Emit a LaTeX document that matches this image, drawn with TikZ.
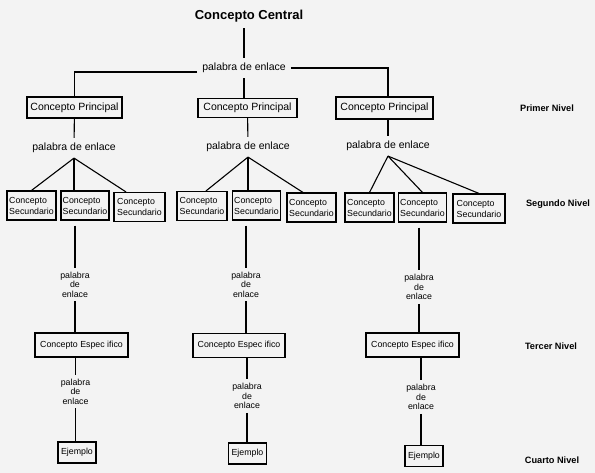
\documentclass[tikz,border=0pt]{standalone}
\usepackage{fontspec}
\setmainfont{Liberation Sans}
\definecolor{fondo}{RGB}{243,243,243}
\tikzset{
    linea/.style={line width=1.1pt},
    concepto/.style={draw, line width=1.1pt, inner sep=2pt, font=\fontsize{10.5}{12}\selectfont},
    secundario/.style={draw, line width=1.1pt, inner sep=1.2pt, align=left, minimum height=29pt, font=\fontsize{8.8}{11}\selectfont},
    especifico/.style={draw, line width=1.1pt, inner sep=2pt, minimum height=24pt, font=\fontsize{8.8}{11}\selectfont},
    ejemplo/.style={draw, line width=1.1pt, inner sep=2pt, minimum width=38pt, minimum height=21pt, font=\fontsize{8.8}{11}\selectfont},
    enlace/.style={inner sep=5pt, font=\fontsize{10.5}{12}\selectfont},
    enlacecorto/.style={inner sep=4pt, align=center, font=\fontsize{8.8}{9.5}\selectfont},
    nivel/.style={font=\bfseries\fontsize{9.2}{11}\selectfont},
}

\begin{document}
\begin{tikzpicture}[x=1pt, y=-1pt]
        %background and size
        \fill[fondo] (0, 0) rectangle (595, 473);
        \useasboundingbox (0, 0) rectangle (595, 473);
        %concepto central
        \node[font=\bfseries\fontsize{13}{15}\selectfont, inner sep=6pt] (central) at (249, 16) {Concepto Central};
        \node[enlace] (pe0) at (244, 68) {palabra de enlace};
        %primer nivel
        \node[concepto, minimum width=95pt, minimum height=21pt] (cp1) at (74.5, 107.5) {Concepto Principal};
        \node[concepto, minimum width=99pt, minimum height=19pt] (cp2) at (247.5, 108) {Concepto Principal};
        \node[concepto, minimum width=97pt, minimum height=22pt] (cp3) at (384.5, 108) {Concepto Principal};
        \node[enlace] (pe1) at (74, 148) {palabra de enlace};
        \node[enlace] (pe2) at (248, 147) {palabra de enlace};
        \node[enlace] (pe3) at (388, 146) {palabra de enlace};
        %segundo nivel
        \node[secundario, minimum width=49pt] (cs11) at (31.5, 205.5) {Concepto\\Secundario};
        \node[secundario, minimum width=48pt] (cs12) at (85, 205.5) {Concepto\\Secundario};
        \node[secundario, minimum width=51pt] (cs13) at (139.5, 207) {Concepto\\Secundario};
        \node[secundario, minimum width=50pt] (cs21) at (202, 206) {Concepto\\Secundario};
        \node[secundario, minimum width=48pt] (cs22) at (256.5, 205.5) {Concepto\\Secundario};
        \node[secundario, minimum width=49pt] (cs23) at (311.5, 207.5) {Concepto\\Secundario};
        \node[secundario, minimum width=49pt] (cs31) at (369.5, 207.5) {Concepto\\Secundario};
        \node[secundario, minimum width=48pt] (cs32) at (422.5, 207.5) {Concepto\\Secundario};
        \node[secundario, minimum width=52pt] (cs33) at (479, 208.5) {Concepto\\Secundario};
        \node[enlacecorto] (pl1) at (75, 284.5) {palabra\\de\\enlace};
        \node[enlacecorto] (pl2) at (246, 284.5) {palabra\\de\\enlace};
        \node[enlacecorto] (pl3) at (419, 287) {palabra\\de\\enlace};
        %tercer nivel
        \node[especifico, minimum width=93pt] (ce1) at (81.5, 345) {Concepto Espec ifico};
        \node[especifico, minimum width=92pt] (ce2) at (239, 345.5) {Concepto Espec ifico};
        \node[especifico, minimum width=93pt] (ce3) at (412.5, 345) {Concepto Espec ifico};
        \node[enlacecorto] (pl4) at (75.5, 391.5) {palabra\\de\\enlace};
        \node[enlacecorto] (pl5) at (247, 396) {palabra\\de\\enlace};
        \node[enlacecorto] (pl6) at (421, 397) {palabra\\de\\enlace};
        %cuarto nivel
        \node[ejemplo] (ej1) at (77, 452.5) {Ejemplo};
        \node[ejemplo] (ej2) at (247.5, 453.5) {Ejemplo};
        \node[ejemplo] (ej3) at (424, 456) {Ejemplo};
        %label levels
        \node[nivel] (n1) at (547, 108) {Primer Nivel};
        \node[nivel] (n2) at (558, 204) {Segundo Nivel};
        \node[nivel] (n3) at (551, 346) {Tercer Nivel};
        \node[nivel] (n4) at (552, 460) {Cuarto Nivel};
        %connect central to principal
        \draw[linea] (pe0 |- central.south) -- (pe0.north);
        \draw[linea] ([yshift=-4pt]pe0.west) -| (cp1.north);
        \draw[linea] (pe0.south) -- (pe0.south |- cp2.north);
        \draw[linea] (pe0.east) -| (pe3 |- cp3.north);
        %connect principal to secundario
        \draw[linea] (cp1) -- (pe1);
        \draw[linea] (cp2) -- (pe2);
        \draw[linea] (pe3 |- cp3.south) -- (pe3);
        \draw[linea] (pe1.south) -- (cs11.north);
        \draw[linea] (pe1.south) -- (pe1.south |- cs12.north);
        \draw[linea] (pe1.south) -- ([xshift=-13.5pt]cs13.north);
        \draw[linea] (pe2.south) -- ([xshift=4pt]cs21.north);
        \draw[linea] (pe2.south) -- (pe2.south |- cs22.north);
        \draw[linea] (pe2.south) -- ([xshift=-8.5pt]cs23.north);
        \draw[linea] (pe3.south) -- (cs31.north);
        \draw[linea] (pe3.south) -- (cs32.north);
        \draw[linea] (pe3.south) -- (cs33.north);
        %connect secundario to especifico
        \draw[linea, shorten <=5pt] (pl1 |- cs12.south) -- (pl1);
        \draw[linea, shorten <=5pt] (pl2 |- cs22.south) -- (pl2);
        \draw[linea, shorten <=5pt] (pl3 |- cs32.south) -- (pl3);
        \draw[linea] (pl1) -- (pl1 |- ce1.north);
        \draw[linea] (pl2) -- (pl2 |- ce2.north);
        \draw[linea] (pl3) -- (pl3 |- ce3.north);
        %connect especifico to ejemplo
        \draw[linea] (pl4 |- ce1.south) -- (pl4);
        \draw[linea] (pl5 |- ce2.south) -- (pl5);
        \draw[linea] (pl6 |- ce3.south) -- (pl6);
        \draw[linea] (pl4) -- (pl4 |- ej1.north);
        \draw[linea] (pl5) -- (pl5 |- ej2.north);
        \draw[linea] (pl6) -- (pl6 |- ej3.north);
    \end{tikzpicture}
\end{document}
